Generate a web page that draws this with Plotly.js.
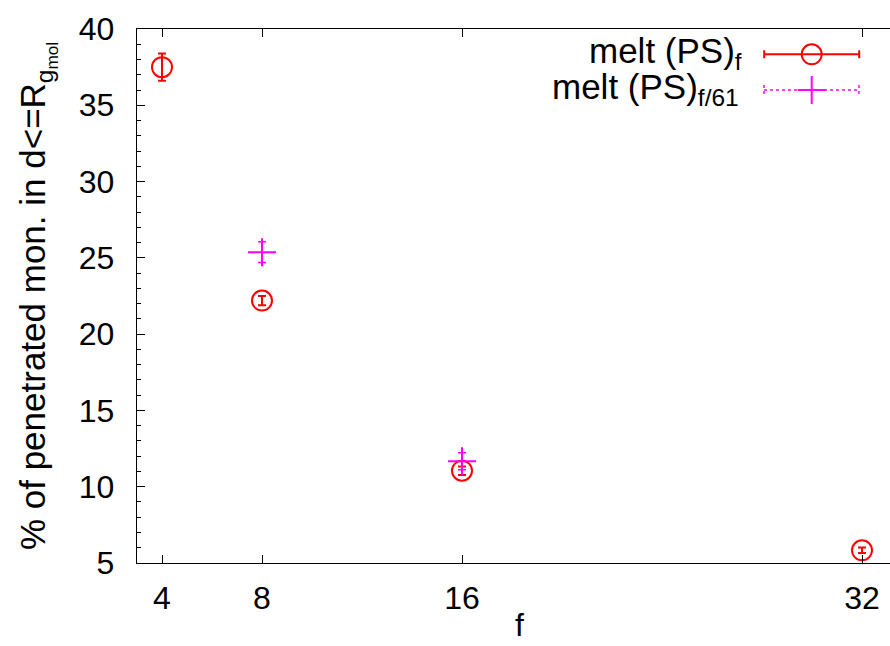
<!DOCTYPE html>
<html>
<head>
<meta charset="utf-8">
<script src="https://cdn.plot.ly/plotly-3.0.1.min.js"></script>
<style>html,body{margin:0;padding:0;background:#fff;}</style>
</head>
<body>
<div id="chart" style="width:890px;height:646px;"></div>
<script>
// Data
const fRed = [4, 8, 16, 32];
const pctRed = [37.5, 22.2, 11.05, 5.83];
const errRed = [0.9, 0.3, 0.28, 0.18];
const fMag = [8, 16];
const pctMag = [25.37, 11.67];
const errMag = [0.68, 0.55];
const xTicks = [4, 8, 16, 32];
const labelRed = 'melt (PS)<sub>f</sub>';
const labelMag = 'melt (PS)<sub>f/61</sub>';
const xTitle = 'f';
const yTitle = '% of penetrated mon. in d<=R<sub>g<sub>mol</sub></sub>';

const FONT = 'Liberation Sans, Arial, Helvetica, sans-serif';
const RED = '#ff0000';
const MAG = '#ff00ff';

const traces = [
  {
    x: fRed, y: pctRed, type: 'scatter', mode: 'markers', showlegend: false,
    marker: {symbol: 'circle-open', size: 20, color: RED, line: {width: 2, color: RED}},
    error_y: {type: 'data', array: errRed, visible: true, color: RED, thickness: 2, width: 4}
  },
  {
    x: fMag, y: pctMag, type: 'scatter', mode: 'markers', showlegend: false,
    marker: {symbol: 'cross-thin-open', size: 20, color: MAG, line: {width: 2, color: MAG}},
    error_y: {type: 'data', array: errMag, visible: true, color: MAG, thickness: 1.5, width: 4}
  },
  // legend samples (pixel-like overlay axes)
  {
    x: [811.7], y: [54.3], xaxis: 'x2', yaxis: 'y2', type: 'scatter', mode: 'markers', showlegend: false,
    marker: {symbol: 'circle-open', size: 20, color: RED, line: {width: 2, color: RED}},
    error_x: {type: 'constant', value: 47.5, visible: true, color: RED, thickness: 2, width: 4}
  },
  {
    x: [764, 859], y: [90, 90], xaxis: 'x2', yaxis: 'y2', type: 'scatter', mode: 'lines', showlegend: false,
    line: {color: MAG, width: 1.5, dash: 'dot'}
  },
  {
    x: [811.7], y: [90], xaxis: 'x2', yaxis: 'y2', type: 'scatter', mode: 'markers', showlegend: false,
    marker: {symbol: 'cross-thin-open', size: 20, color: MAG, line: {width: 2, color: MAG}}
  }
];

const layout = {
  width: 890, height: 646,
  margin: {l: 137, r: 0, t: 29, b: 83},
  paper_bgcolor: '#fff', plot_bgcolor: '#fff',
  font: {family: FONT, size: 32, color: '#000'},
  showlegend: false,
  xaxis: {
    range: [3, 33.12], tickmode: 'array', tickvals: xTicks, ticktext: xTicks.map(String),
    ticks: 'inside', ticklen: 8, tickwidth: 1, tickcolor: '#000', ticklabelstandoff: 6,
    showline: true, linecolor: '#000', linewidth: 1.2, mirror: 'ticks',
    showgrid: false, zeroline: false,
    tickfont: {family: FONT, size: 32}
  },
  yaxis: {
    range: [5, 40], dtick: 5, tick0: 5,
    ticks: 'inside', ticklen: 8, tickwidth: 1, tickcolor: '#000', ticklabelstandoff: 15,
    minor: {dtick: 1, ticks: 'inside', ticklen: 4, tickwidth: 1, tickcolor: '#000', showgrid: false},
    showline: true, linecolor: '#000', linewidth: 1.2, mirror: false,
    showgrid: false, zeroline: false,
    tickfont: {family: FONT, size: 32},
    title: {text: yTitle, font: {family: FONT, size: 35}, standoff: 22}
  },
  xaxis2: {overlaying: 'x', anchor: 'y2', range: [137, 890], visible: false, fixedrange: true},
  yaxis2: {overlaying: 'y', anchor: 'x2', range: [563, 29], visible: false, fixedrange: true},
  shapes: [
    {type: 'line', xref: 'x2', yref: 'y2', x0: 764, x1: 764, y0: 85, y1: 95, line: {color: MAG, width: 1.5, dash: 'dot'}},
    {type: 'line', xref: 'x2', yref: 'y2', x0: 859, x1: 859, y0: 85, y1: 95, line: {color: MAG, width: 1.5, dash: 'dot'}}
  ],
  annotations: [
    {xref: 'x2', yref: 'y2', x: 744, y: 53, text: labelRed, showarrow: false, xanchor: 'right', yanchor: 'middle',
     font: {family: FONT, size: 35, color: '#000'}},
    {xref: 'x2', yref: 'y2', x: 741, y: 89, text: labelMag, showarrow: false, xanchor: 'right', yanchor: 'middle',
     font: {family: FONT, size: 35, color: '#000'}},
    {xref: 'x2', yref: 'paper', x: 519, y: -0.117, text: xTitle, showarrow: false, xanchor: 'center', yanchor: 'middle',
     borderpad: 0, font: {family: FONT, size: 32, color: '#000'}}
  ]
};

Plotly.newPlot('chart', traces, layout, {displayModeBar: false, staticPlot: true});
</script>
</body>
</html>
